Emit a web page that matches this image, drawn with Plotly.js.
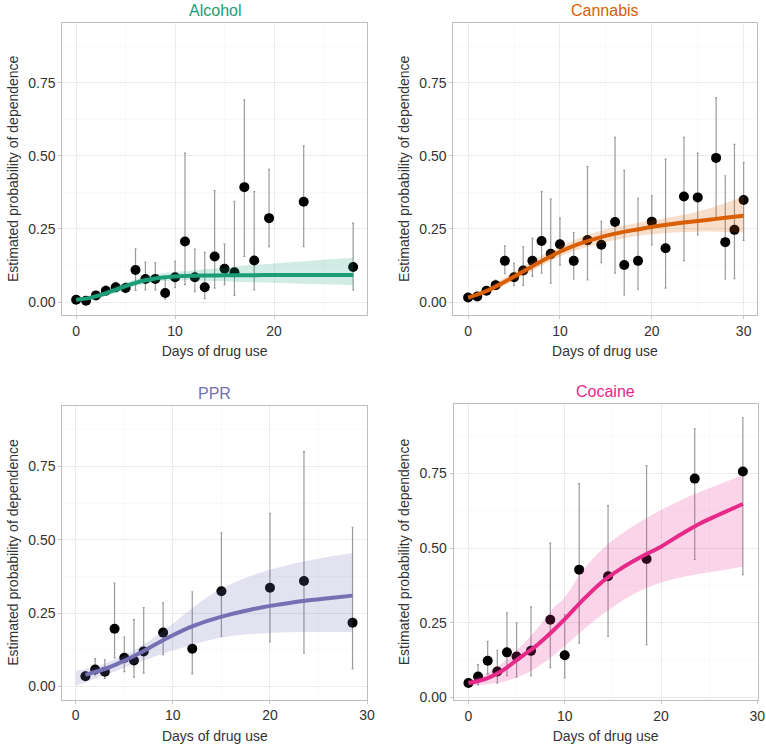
<!DOCTYPE html>
<html>
<head>
<meta charset="utf-8">
<script src="https://cdn.plot.ly/plotly-3.0.1.min.js"></script>
<style>
html,body{margin:0;padding:0;background:#fff;}
#chart{width:766px;height:746px;}
</style>
</head>
<body>
<div id="chart"></div>
<script>
// ---------------- DATA ----------------
const panelNames = ['Alcohol', 'Cannabis', 'PPR', 'Cocaine'];
const xTitle = 'Days of drug use';
const yTitle = 'Estimated probability of dependence';
const yTickVals = [0, 0.25, 0.5, 0.75];
const yTickText = ['0.00', '0.25', '0.50', '0.75'];

// Alcohol observed points + intervals
const alcX  = [0,1,2,3,4,5,6,7,8,9,10,11,12,13,14,15,16,17,18,19.5,23,28];
const alcY  = [0.008,0.005,0.023,0.039,0.051,0.048,0.11,0.079,0.079,0.031,0.085,0.207,0.085,0.051,0.156,0.114,0.102,0.393,0.142,0.287,0.343,0.12];
const alcLo = [0.003,0.002,0.012,0.025,0.035,0.032,0.04,0.042,0.042,0.01,0.05,0.06,0.036,0.012,0.048,0.06,0.023,0.156,0.042,0.19,0.19,0.042];
const alcHi = [0.016,0.012,0.036,0.055,0.068,0.066,0.182,0.137,0.135,0.08,0.139,0.509,0.181,0.17,0.381,0.198,0.344,0.691,0.378,0.454,0.534,0.27];
// Alcohol fitted curve + band
const alcFitX  = [0,1,2,3,4,5,6,7,8,9,10,12,14,16,18,20,22,24,26,28];
const alcFit   = [0.008,0.012,0.02,0.03,0.043,0.055,0.066,0.075,0.081,0.085,0.088,0.09,0.091,0.092,0.092,0.093,0.093,0.093,0.093,0.093];
const alcFitLo = [0.004,0.007,0.013,0.021,0.032,0.043,0.054,0.062,0.068,0.072,0.074,0.074,0.072,0.07,0.068,0.066,0.064,0.062,0.06,0.058];
const alcFitHi = [0.013,0.018,0.028,0.04,0.054,0.067,0.079,0.088,0.095,0.1,0.103,0.109,0.115,0.121,0.127,0.132,0.137,0.142,0.147,0.152];

// Cannabis
const canX  = [0,1,2,3,4,5,6,7,8,9,10,11.5,13,14.5,16,17,18.5,20,21.5,23.5,25,27,28,29,30];
const canY  = [0.016,0.019,0.039,0.058,0.141,0.085,0.108,0.141,0.209,0.165,0.198,0.141,0.212,0.196,0.274,0.127,0.141,0.275,0.184,0.361,0.358,0.493,0.205,0.247,0.349];
const canLo = [0.01,0.012,0.028,0.045,0.097,0.056,0.057,0.088,0.099,0.065,0.127,0.079,0.076,0.135,0.099,0.025,0.044,0.196,0.048,0.142,0.23,0.287,0.079,0.08,0.211];
const canHi = [0.024,0.028,0.052,0.075,0.192,0.133,0.19,0.218,0.378,0.353,0.287,0.238,0.463,0.276,0.563,0.45,0.355,0.363,0.489,0.563,0.509,0.699,0.432,0.539,0.477];
const canFitX  = [0,2,4,6,8,10,12,14,16,18,20,22,24,26,28,30];
const canFit   = [0.015,0.038,0.07,0.105,0.14,0.172,0.198,0.218,0.234,0.246,0.257,0.266,0.274,0.281,0.288,0.295];
const canFitLo = [0.011,0.029,0.057,0.09,0.124,0.155,0.18,0.198,0.212,0.224,0.232,0.237,0.24,0.241,0.24,0.238];
const canFitHi = [0.02,0.048,0.085,0.122,0.158,0.19,0.218,0.24,0.256,0.268,0.279,0.29,0.302,0.318,0.338,0.362];

// PPR
const pprX  = [1,2,3,4,5,6,7,9,12,15,20,23.5,28.5];
const pprY  = [0.035,0.058,0.051,0.197,0.098,0.089,0.12,0.184,0.129,0.325,0.337,0.36,0.218];
const pprLo = [0.025,0.04,0.028,0.098,0.051,0.032,0.046,0.109,0.043,0.172,0.152,0.115,0.06];
const pprHi = [0.05,0.095,0.091,0.353,0.169,0.228,0.269,0.285,0.323,0.524,0.59,0.801,0.543];
const pprFitX = [1,2,3,4,5,6,7,8,9,10,12,14,16,18,20,22,24,26,28.5];
const pprFit  = [0.04,0.05,0.06,0.073,0.088,0.104,0.121,0.14,0.158,0.175,0.205,0.228,0.247,0.262,0.275,0.285,0.294,0.301,0.31];
const pprBandX  = [0,1,2,3,4,5,6,7,8,9,10,12,14,16,18,20,22,24,26,28.5];
const pprFitLo  = [0.002,0.015,0.027,0.039,0.051,0.064,0.077,0.089,0.101,0.112,0.123,0.143,0.16,0.172,0.179,0.183,0.185,0.186,0.186,0.186];
const pprFitHi  = [0.055,0.06,0.068,0.079,0.092,0.107,0.124,0.144,0.166,0.19,0.214,0.268,0.315,0.35,0.377,0.398,0.415,0.43,0.442,0.455];

// Cocaine
const cocX  = [0,1,2,3,4,5,6.5,8.5,10,11.5,14.5,18.5,23.5,28.5];
const cocY  = [0.048,0.07,0.123,0.087,0.151,0.137,0.156,0.26,0.141,0.428,0.406,0.464,0.733,0.757];
const cocLo = [0.038,0.042,0.078,0.048,0.073,0.068,0.073,0.1,0.065,0.182,0.205,0.177,0.462,0.411];
const cocHi = [0.06,0.11,0.188,0.158,0.283,0.249,0.303,0.517,0.277,0.716,0.643,0.777,0.9,0.937];
const cocFitX  = [0,1,2,3,4,5,6,7,8,9,10,12,14,16,18,20,22,24,26,28.5];
const cocFit   = [0.048,0.055,0.065,0.08,0.1,0.125,0.148,0.172,0.2,0.23,0.262,0.33,0.39,0.435,0.472,0.505,0.545,0.582,0.612,0.648];
const cocFitLo = [0.04,0.041,0.044,0.049,0.056,0.067,0.08,0.098,0.12,0.145,0.172,0.228,0.28,0.325,0.36,0.385,0.402,0.414,0.424,0.438];
const cocFitHi = [0.058,0.068,0.083,0.103,0.128,0.158,0.19,0.225,0.265,0.305,0.335,0.43,0.5,0.55,0.592,0.628,0.66,0.688,0.713,0.745];

// ---------------- BUILD ----------------
const W = 766, H = 746;
const FONT = 'Liberation Sans, Arial, Helvetica, sans-serif';

const panels = [
  {name: panelNames[0], color:'#1b9e77', fill:'rgba(27,158,119,0.2)', px:[62.3,367], py:[22.7,315], xr:[-1.4,29.4], yr:[-0.044,0.955],
   x:alcX, y:alcY, lo:alcLo, hi:alcHi, fx:alcFitX, f:alcFit, bx:alcFitX, flo:alcFitLo, fhi:alcFitHi},
  {name: panelNames[1], color:'#d95f02', fill:'rgba(217,95,2,0.2)', px:[453.4,756.5], py:[22.7,315], xr:[-1.6,31.4], yr:[-0.044,0.955],
   x:canX, y:canY, lo:canLo, hi:canHi, fx:canFitX, f:canFit, bx:canFitX, flo:canFitLo, fhi:canFitHi},
  {name: panelNames[2], color:'#7570b3', fill:'rgba(117,112,179,0.2)', px:[62.3,367.3], py:[405.5,699.5], xr:[-1.38,30.02], yr:[-0.044,0.958],
   x:pprX, y:pprY, lo:pprLo, hi:pprHi, fx:pprFitX, f:pprFit, bx:pprBandX, flo:pprFitLo, fhi:pprFitHi},
  {name: panelNames[3], color:'#e7298a', fill:'rgba(231,41,138,0.2)', px:[453.6,757.5], py:[404.3,699.8], xr:[-1.54,30.02], yr:[-0.008,0.982],
   x:cocX, y:cocY, lo:cocLo, hi:cocHi, fx:cocFitX, f:cocFit, bx:cocFitX, flo:cocFitLo, fhi:cocFitHi}
];

const traces = [];
const layout = {
  width: W, height: H,
  margin: {l:0, r:0, t:0, b:0},
  paper_bgcolor: '#ffffff',
  plot_bgcolor: '#ffffff',
  showlegend: false,
  font: {family: FONT, color: '#333333', size: 14},
  annotations: []
};

panels.forEach((p, i) => {
  const k = i === 0 ? '' : String(i + 1);
  const xa = 'x' + k, ya = 'y' + k;
  // error bars + points
  traces.push({
    type: 'scatter', mode: 'markers', x: p.x, y: p.y, xaxis: xa, yaxis: ya,
    marker: {color: '#000000', size: 10},
    error_y: {type: 'data', symmetric: false,
      array: p.hi.map((h, j) => h - p.y[j]),
      arrayminus: p.lo.map((l, j) => p.y[j] - l),
      color: '#9a9a9a', thickness: 1.2, width: 1},
    hoverinfo: 'skip', cliponaxis: false
  });
  // ribbon
  traces.push({type:'scatter', mode:'lines', x:p.bx, y:p.flo, xaxis:xa, yaxis:ya,
    line:{color:'rgba(0,0,0,0)', width:0, shape:'spline'}, hoverinfo:'skip'});
  traces.push({type:'scatter', mode:'lines', x:p.bx, y:p.fhi, xaxis:xa, yaxis:ya,
    line:{color:'rgba(0,0,0,0)', width:0, shape:'spline'}, fill:'tonexty', fillcolor:p.fill, hoverinfo:'skip'});
  // fitted line
  traces.push({type:'scatter', mode:'lines', x:p.fx, y:p.f, xaxis:xa, yaxis:ya,
    line:{color:p.color, width:4, shape:'spline'}, hoverinfo:'skip'});

  const xd = [p.px[0] / W, p.px[1] / W];
  const yd = [1 - p.py[1] / H, 1 - p.py[0] / H];
  layout['xaxis' + k] = {
    domain: xd, range: p.xr, anchor: ya, tickvals: [0, 10, 20, 30], ticktext: ['0', '10', '20', '30'],
    showgrid: true, gridcolor: '#ebebeb', gridwidth: 1,
    minor: {tickvals: [5, 15, 25], showgrid: true, gridcolor: '#f5f5f5', gridwidth: 0.6},
    zeroline: false, showline: true, mirror: true, linecolor: '#bdbdbd', linewidth: 1,
    ticks: 'outside', ticklen: 3, tickcolor: '#c8c8c8',
    tickfont: {family: FONT, size: 14, color: '#333333'},
    title: {text: xTitle, font: {family: FONT, size: 14, color: '#333333'}, standoff: 8},
    automargin: false, fixedrange: true
  };
  layout['yaxis' + k] = {
    domain: yd, range: p.yr, anchor: xa,
    tickvals: yTickVals, ticktext: yTickText,
    showgrid: true, gridcolor: '#ebebeb', gridwidth: 1,
    minor: {tickvals: [0.125, 0.375, 0.625, 0.875], showgrid: true, gridcolor: '#f5f5f5', gridwidth: 0.6},
    zeroline: false, showline: true, mirror: true, linecolor: '#bdbdbd', linewidth: 1,
    ticks: 'outside', ticklen: 3, tickcolor: '#c8c8c8',
    tickfont: {family: FONT, size: 14, color: '#333333'},
    title: {text: yTitle, font: {family: FONT, size: 14, color: '#333333'}, standoff: 6},
    automargin: false, fixedrange: true
  };
  layout.annotations.push({
    xref: 'paper', yref: 'paper',
    x: (xd[0] + xd[1]) / 2, y: 1 - (p.py[0] - 12.5) / H,
    xanchor: 'center', yanchor: 'middle', showarrow: false,
    text: p.name, font: {family: FONT, size: 16, color: p.color}
  });
});

Plotly.newPlot('chart', traces, layout, {displayModeBar: false, staticPlot: true});
</script>
</body>
</html>
